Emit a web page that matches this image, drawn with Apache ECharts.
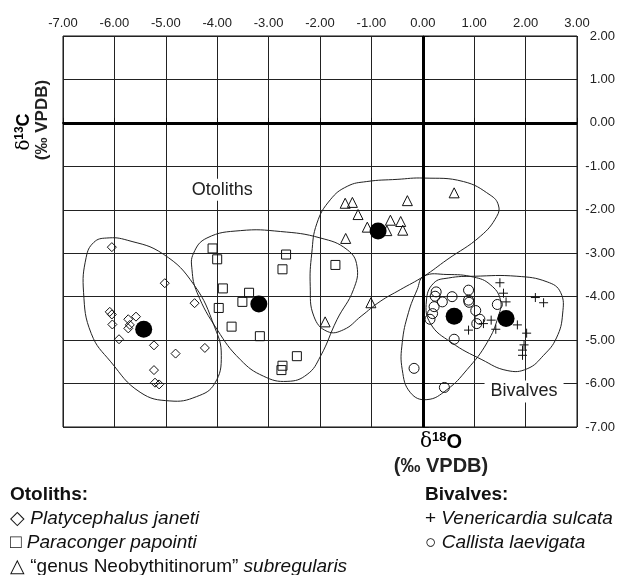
<!DOCTYPE html>
<html><head><meta charset="utf-8">
<script src="https://cdn.jsdelivr.net/npm/echarts@6/dist/echarts.min.js"></script>
<style>html,body{margin:0;padding:0;background:#fff;overflow:hidden}#c{width:619px;height:575px}</style>
</head><body><div id="c"></div>
<script>
// ---- data (δ18O, δ13C in ‰ VPDB) ----
const platycephalus = [[-6.05,-2.86],[-5.02,-3.69],[-4.44,-4.15],[-6.09,-4.35],[-6.05,-4.41],[-6.04,-4.64],[-5.73,-4.52],[-5.58,-4.46],[-5.73,-4.73],[-5.70,-4.65],[-5.91,-4.98],[-5.23,-5.12],[-4.81,-5.31],[-4.24,-5.18],[-5.23,-5.69],[-5.21,-5.98],[-5.13,-6.02]];
const paraconger = [[-4.09,-2.89],[-4.00,-3.14],[-2.66,-3.03],[-2.73,-3.37],[-1.70,-3.27],[-3.89,-3.81],[-3.38,-3.91],[-3.51,-4.12],[-3.97,-4.26],[-3.72,-4.69],[-3.17,-4.91],[-2.45,-5.37],[-2.73,-5.59],[-2.75,-5.69]];
const neobythitinorum = [[-1.51,-1.85],[-1.37,-1.83],[-0.30,-1.79],[0.61,-1.61],[-1.26,-2.11],[-0.63,-2.24],[-0.43,-2.27],[-1.08,-2.40],[-0.70,-2.48],[-0.39,-2.47],[-1.50,-2.66],[-1.01,-4.14],[-1.90,-4.58]];
const venericardia = [[1.50,-3.68],[1.57,-3.92],[1.62,-4.12],[2.19,-4.02],[2.35,-4.14],[1.33,-4.54],[1.42,-4.75],[0.89,-4.77],[1.84,-4.65],[2.02,-4.84],[1.97,-5.11],[1.94,-5.23],[1.94,-5.35],[1.18,-4.62]];
const callista = [[0.26,-3.89],[0.24,-3.99],[0.38,-4.12],[0.57,-4.00],[0.89,-3.85],[0.89,-4.08],[0.90,-4.13],[0.22,-4.23],[0.19,-4.39],[0.14,-4.52],[1.03,-4.32],[1.11,-4.52],[1.05,-4.62],[1.45,-4.18],[0.61,-4.98],[-0.17,-5.65],[0.42,-6.09]];
const means = [[-5.43,-4.75],[-3.19,-4.17],[-0.87,-2.49],[0.61,-4.45],[1.62,-4.50]];

// ---- group envelopes ----
const envPlatycephalus = [[-6.15,-2.65],[-5.75,-2.70],[-5.05,-3.02],[-4.45,-3.73],[-4.05,-4.70],[-3.92,-5.35],[-4.05,-6.00],[-4.40,-6.30],[-4.92,-6.40],[-5.50,-6.20],[-6.07,-5.50],[-6.45,-4.85],[-6.60,-3.90],[-6.55,-3.10],[-6.40,-2.75]];
const envParaconger = [[-4.46,-3.00],[-4.20,-2.65],[-3.55,-2.48],[-2.77,-2.50],[-1.99,-2.65],[-1.47,-2.92],[-1.28,-3.30],[-1.35,-3.84],[-1.67,-4.53],[-1.99,-5.37],[-2.25,-5.79],[-2.64,-5.95],[-3.10,-5.83],[-3.55,-5.45],[-4.00,-4.76],[-4.39,-3.91],[-4.49,-3.38]];
const envNeobythitinorum = [[-2.06,-2.31],[-1.80,-1.77],[-1.47,-1.46],[-1.09,-1.35],[-0.50,-1.30],[0.02,-1.27],[0.79,-1.35],[1.31,-1.66],[1.47,-1.89],[1.44,-2.15],[1.12,-2.61],[0.47,-3.15],[0.02,-3.53],[-0.44,-3.84],[-0.83,-4.11],[-1.20,-4.45],[-1.54,-4.76],[-1.86,-4.80],[-2.12,-4.45],[-2.19,-3.76],[-2.16,-3.00]];
const envCallista = [[0.02,-3.53],[0.47,-3.49],[0.99,-3.55],[1.31,-3.72],[1.51,-4.07],[1.47,-4.45],[1.25,-5.06],[0.86,-5.68],[0.47,-6.14],[0.08,-6.37],[-0.24,-6.21],[-0.40,-5.68],[-0.40,-5.06],[-0.28,-4.37],[-0.11,-3.84]];
const envVenericardia = [[0.21,-3.69],[0.50,-3.57],[1.00,-3.53],[1.83,-3.53],[2.42,-3.66],[2.68,-3.90],[2.72,-4.40],[2.60,-4.95],[2.35,-5.35],[2.03,-5.66],[1.64,-5.70],[1.15,-5.45],[0.55,-5.05],[0.15,-4.62],[0.07,-4.10]];

// ---- axes ----
const xRange = [-7, 3];
const yRange = [-7, 2];
const groupLabels = [{name:'Otoliths', pos:[-3.90,-1.54]}, {name:'Bivalves', pos:[1.97,-6.18]}];

const FONT = '"Liberation Sans", Arial, sans-serif';
const chart = echarts.init(document.getElementById('c'), null, {renderer:'canvas'});

function envSeries(pts){
  return {
    type:'custom', coordinateSystem:'cartesian2d', silent:true, z:1,
    data:[pts[0]],
    renderItem:(params, api) => ({
      type:'polygon',
      shape:{points: pts.map(p => api.coord(p)), smooth:0.45},
      style:{fill:'none', stroke:'#222', lineWidth:1}
    })
  };
}
const hollow = {color:'rgba(0,0,0,0)', borderColor:'#111', borderWidth:1, opacity:1};
const LEG = 19;
const legRich = {i:{fontFamily:FONT, fontSize:LEG, fontStyle:'italic', color:'#111'}};

const series = [
  envSeries(envPlatycephalus), envSeries(envParaconger), envSeries(envNeobythitinorum),
  envSeries(envCallista), envSeries(envVenericardia),
  {type:'scatter', name:'Platycephalus janeti', data:platycephalus, symbol:'diamond', symbolSize:9, itemStyle:hollow, z:3,
   markLine:{silent:true, symbol:'none', label:{show:false}, lineStyle:{color:'#000', width:3, type:'solid', opacity:1},
     data:[{xAxis:0},{yAxis:0}]}},
  {type:'scatter', name:'Paraconger papointi', data:paraconger, symbol:'rect', symbolSize:9, itemStyle:hollow, z:3},
  {type:'scatter', name:'genus Neobythitinorum subregularis', data:neobythitinorum, symbol:'triangle', symbolSize:10, itemStyle:hollow, z:3},
  {type:'scatter', name:'Venericardia sulcata', data:venericardia, symbol:'path://M5,0L5,10M0,5L10,5', symbolSize:9, itemStyle:hollow, z:3},
  {type:'scatter', name:'Callista laevigata', data:callista, symbol:'circle', symbolSize:10, itemStyle:hollow, z:3},
  {type:'scatter', name:'means', data:means, symbol:'circle', symbolSize:17, itemStyle:{color:'#000', opacity:1}, z:4},
  {type:'scatter', name:'labels', data:groupLabels.map(g => ({value:g.pos, name:g.name})), symbolSize:1,
   itemStyle:{color:'rgba(0,0,0,0)', opacity:1}, z:5,
   label:{show:true, position:'inside', formatter:p => p.name, fontFamily:FONT, fontSize:18, color:'#222',
     backgroundColor:'#fff', padding:[2,6]}}
];

const option = {
  animation:false,
  backgroundColor:'#fff',
  grid:{left:63, right:42, top:36, bottom:148, show:true, borderColor:'#111', borderWidth:1,
        containLabel:false, outerBoundsMode:'none'},
  xAxis:{type:'value', position:'top', min:xRange[0], max:xRange[1], interval:1,
    axisLine:{show:true, lineStyle:{color:'#111', width:2}},
    axisTick:{show:true, inside:false, length:5, lineStyle:{color:'#111'}},
    axisLabel:{formatter:v => v.toFixed(2), fontFamily:FONT, fontSize:13, color:'#222', margin:6},
    splitLine:{show:true, lineStyle:{color:'#222', width:1}}},
  yAxis:{type:'value', position:'right', min:yRange[0], max:yRange[1], interval:1,
    axisLine:{show:true, lineStyle:{color:'#111', width:1}},
    axisTick:{show:true, inside:false, length:6, lineStyle:{color:'#111'}},
    axisLabel:{formatter:v => v.toFixed(2), fontFamily:FONT, fontSize:13, color:'#222', margin:38, align:'right'},
    splitLine:{show:true, lineStyle:{color:'#222', width:1}}},
  series:series,
  graphic:[
    {type:'text', x:441, y:442, style:{
      text:'{d|δ}{s|18}{b|O}', align:'center', verticalAlign:'middle',
      rich:{d:{fontFamily:'"DejaVu Serif", serif', fontSize:20, color:'#222'},
            s:{fontFamily:FONT, fontSize:13, fontWeight:'bold', color:'#222', verticalAlign:'top', padding:[0,0,9,0]},
            b:{fontFamily:FONT, fontSize:20, fontWeight:'bold', color:'#222'}}}},
    {type:'text', x:441, y:466, style:{text:'(‰ VPDB)', align:'center', verticalAlign:'middle',
      fontFamily:FONT, fontSize:20, fontWeight:'bold', fill:'#222'}},
    {type:'text', x:24, y:132, rotation:Math.PI/2, style:{
      text:'{d|δ}{s|13}{b|C}', align:'center', verticalAlign:'middle',
      rich:{d:{fontFamily:'"DejaVu Serif", serif', fontSize:18, color:'#222'},
            s:{fontFamily:FONT, fontSize:12, fontWeight:'bold', color:'#222', verticalAlign:'top', padding:[0,0,8,0]},
            b:{fontFamily:FONT, fontSize:18, fontWeight:'bold', color:'#222'}}}},
    {type:'text', x:42, y:120, rotation:Math.PI/2, style:{text:'(‰ VPDB)', align:'center', verticalAlign:'middle',
      fontFamily:FONT, fontSize:17, fontWeight:'bold', fill:'#222'}},
    // legend
    {type:'text', x:10, y:495, style:{text:'Otoliths:', verticalAlign:'middle', fontFamily:FONT, fontSize:LEG, fontWeight:'bold', fill:'#111'}},
    {type:'text', x:10, y:519, style:{text:'◇ {i|Platycephalus janeti}', verticalAlign:'middle', fontFamily:FONT, fontSize:LEG, fill:'#111', rich:legRich}},
    {type:'text', x:10, y:543, style:{text:'□ {i|Paraconger papointi}', verticalAlign:'middle', fontFamily:FONT, fontSize:LEG, fill:'#111', rich:legRich}},
    {type:'text', x:10, y:567, style:{text:'△ “genus Neobythitinorum” {i|subregularis}', verticalAlign:'middle', fontFamily:FONT, fontSize:LEG, fill:'#111', rich:legRich}},
    {type:'text', x:425, y:495, style:{text:'Bivalves:', verticalAlign:'middle', fontFamily:FONT, fontSize:LEG, fontWeight:'bold', fill:'#111'}},
    {type:'text', x:425, y:519, style:{text:'+ {i|Venericardia sulcata}', verticalAlign:'middle', fontFamily:FONT, fontSize:LEG, fill:'#111', rich:legRich}},
    {type:'text', x:425, y:543, style:{text:'○ {i|Callista laevigata}', verticalAlign:'middle', fontFamily:FONT, fontSize:LEG, fill:'#111', rich:legRich}}
  ]
};
chart.setOption(option);
</script></body></html>
